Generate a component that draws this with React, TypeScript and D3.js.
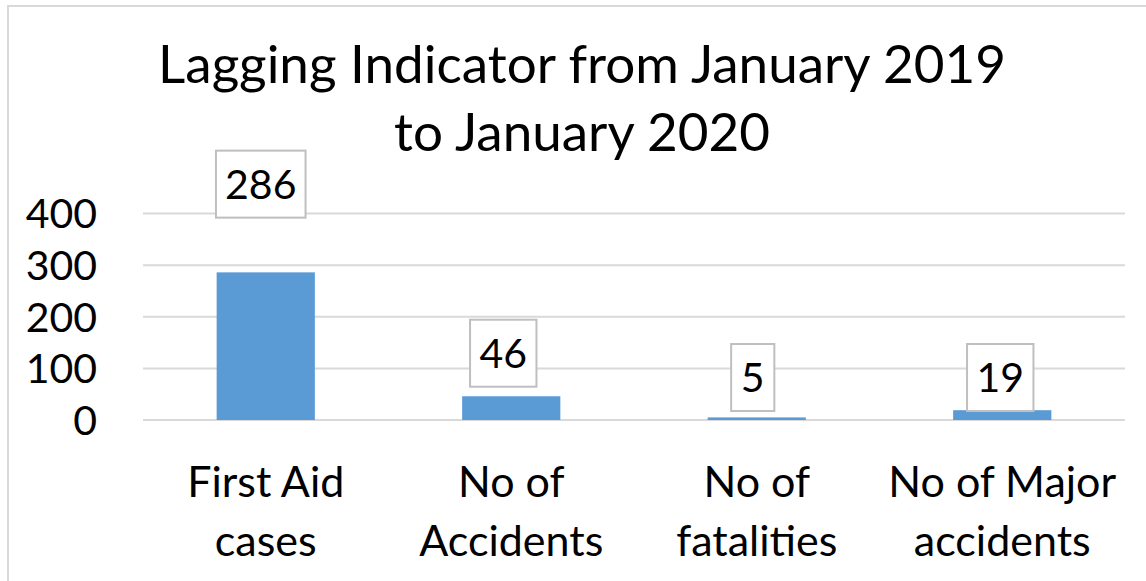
import React from "react";
import * as d3 from "d3";

// chart data
const categories = [
  ["First Aid", "cases"],
  ["No of", "Accidents"],
  ["No of", "fatalities"],
  ["No of Major", "accidents"],
];
const values = [286, 46, 5, 19];
// where each label box sits (bottom edge, in axis units), as placed in the original
const labelAt = [392, 64.5, 17.4, 17.4];
const labelShift = [-5, -8, -4, -2];
const yTicks = [0, 100, 200, 300, 400];
const titleLines = ["Lagging Indicator from January 2019", "to January 2020"];

const width = 1146;
const height = 581;
const font = "Lato, 'Open Sans', sans-serif";

export default function App() {
  const plot = { left: 143, right: 1125, top: 213.5, bottom: 420 };

  const x = d3
    .scaleBand()
    .domain(categories.map((c) => c.join(" ")))
    .range([plot.left, plot.right])
    .paddingInner(0.6)
    .paddingOuter(0.3);

  const y = d3.scaleLinear().domain([0, 400]).range([plot.bottom, plot.top]);

  const digitW = 23.2;
  const boxH = 67;

  return (
    <svg
      width={width}
      height={height}
      style={{ position: "absolute", left: 0, top: 0, background: "#fff" }}
      fontFamily={font}
    >
      {/* chart frame */}
      <rect x={8} y={6} width={1160} height={600} fill="#fff" stroke="#d9d9d9" strokeWidth={2} />

      {/* title */}
      {titleLines.map((t, i) => (
        <text key={t} x={582} y={83 + i * 68} textAnchor="middle" fontSize={53} fill="#000">
          {t}
        </text>
      ))}

      {/* gridlines */}
      {yTicks.map((t) => (
        <line
          key={t}
          x1={plot.left}
          x2={plot.right}
          y1={y(t)}
          y2={y(t)}
          stroke="#d9d9d9"
          strokeWidth={2}
        />
      ))}

      {/* y tick labels */}
      {yTicks.map((t) => (
        <text
          key={"l" + t}
          x={97}
          y={y(t)}
          dy="0.36em"
          textAnchor="end"
          fontSize={41}
          fill="#000"
        >
          {t}
        </text>
      ))}

      {/* bars */}
      {values.map((v, i) => {
        const key = categories[i].join(" ");
        return (
          <rect
            key={key}
            x={x(key)}
            y={y(v)}
            width={x.bandwidth()}
            height={y(0) - y(v)}
            fill="#5b9bd5"
          />
        );
      })}

      {/* data labels */}
      {values.map((v, i) => {
        const key = categories[i].join(" ");
        const cx = (x(key) as number) + x.bandwidth() / 2 + labelShift[i];
        const w = String(v).length * digitW + 20;
        const bottom = y(labelAt[i]);
        return (
          <g key={"d" + key}>
            <rect
              x={cx - w / 2}
              y={bottom - boxH}
              width={w}
              height={boxH}
              fill="#fff"
              stroke="#bfbfbf"
              strokeWidth={2}
            />
            <text
              x={cx}
              y={bottom - boxH / 2}
              dy="0.36em"
              textAnchor="middle"
              fontSize={41}
              fill="#000"
            >
              {v}
            </text>
          </g>
        );
      })}

      {/* category labels */}
      {categories.map((c) => {
        const key = c.join(" ");
        const cx = (x(key) as number) + x.bandwidth() / 2;
        return (
          <text key={"c" + key} x={cx} textAnchor="middle" fontSize={43} fill="#000">
            <tspan x={cx} y={497}>
              {c[0]}
            </tspan>
            <tspan x={cx} y={556}>
              {c[1]}
            </tspan>
          </text>
        );
      })}
    </svg>
  );
}
